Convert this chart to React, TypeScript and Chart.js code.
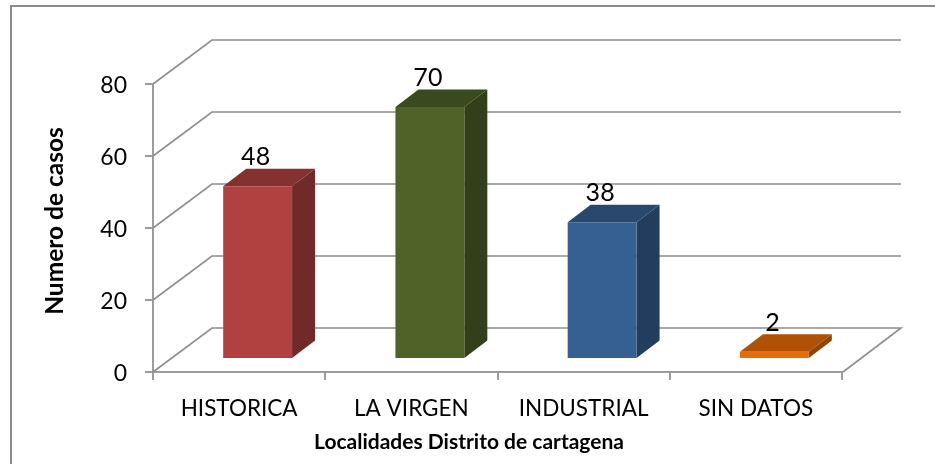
import React, { useEffect, useRef } from "react";
import { Chart, registerables } from "chart.js";

Chart.register(...registerables);

const categories = ["HISTORICA", "LA VIRGEN", "INDUSTRIAL", "SIN DATOS"];
const casos = [48, 70, 38, 2];
const yTicks = [0, 20, 40, 60, 80];
const frontColors = ["#B04140", "#4F6228", "#376092", "#E46C0A"];
const topColors = ["#843130", "#3B4A1E", "#2A486E", "#AF5206"];
const sideColors = ["#722A29", "#333F1A", "#223D5E", "#8F4405"];
const yTitle = "Numero de casos";
const xTitle = "Localidades Distrito de cartagena";

const FONT = "Lato, 'Open Sans', sans-serif";
const GRID = "#8E8E8E";
const AXIS = "#9C9C9C";
const WALL_DX = 59;
const WALL_DY = 44;
const BAR_DX = 18.5;
const BAR_DY = 13;
const DEPTH_DX = 23;
const DEPTH_DY = 17.5;

const threeD = {
  id: "threeD",
  beforeDatasetsDraw(chart: any) {
    const { ctx, chartArea, scales } = chart;
    const yS = scales.y;
    ctx.save();
    ctx.strokeStyle = GRID;
    ctx.lineWidth = 1.6;
    yTicks.forEach((v) => {
      const y = yS.getPixelForValue(v);
      ctx.beginPath();
      ctx.moveTo(chartArea.left, y);
      ctx.lineTo(chartArea.left + WALL_DX, y - WALL_DY);
      ctx.lineTo(chartArea.right + WALL_DX, y - WALL_DY);
      if (v === 0) ctx.lineTo(chartArea.right + 1, y);
      ctx.stroke();
    });
    ctx.restore();

    const meta = chart.getDatasetMeta(0);
    ctx.save();
    ctx.translate(BAR_DX, -BAR_DY);
    meta.data.forEach((bar: any, i: number) => {
      const l = bar.x - bar.width / 2;
      const r = bar.x + bar.width / 2;
      ctx.fillStyle = topColors[i];
      ctx.beginPath();
      ctx.moveTo(l, bar.y);
      ctx.lineTo(l + DEPTH_DX, bar.y - DEPTH_DY);
      ctx.lineTo(r + DEPTH_DX, bar.y - DEPTH_DY);
      ctx.lineTo(r, bar.y);
      ctx.closePath();
      ctx.fill();
      ctx.fillStyle = sideColors[i];
      ctx.beginPath();
      ctx.moveTo(r, bar.y);
      ctx.lineTo(r + DEPTH_DX, bar.y - DEPTH_DY);
      ctx.lineTo(r + DEPTH_DX, bar.base - DEPTH_DY);
      ctx.lineTo(r, bar.base);
      ctx.closePath();
      ctx.fill();
    });
    ctx.restore();
    ctx.save();
    ctx.translate(BAR_DX, -BAR_DY);
  },
  afterDatasetsDraw(chart: any) {
    const { ctx } = chart;
    ctx.restore();
    const meta = chart.getDatasetMeta(0);
    ctx.save();
    ctx.fillStyle = "#000";
    ctx.font = `25px ${FONT}`;
    ctx.textAlign = "center";
    ctx.textBaseline = "alphabetic";
    meta.data.forEach((bar: any, i: number) => {
      ctx.fillText(String(casos[i]), bar.x + BAR_DX - 2, bar.y - BAR_DY - DEPTH_DY - 3.5);
    });
    ctx.restore();
  },
  afterDraw(chart: any) {
    const { ctx } = chart;
    ctx.save();
    ctx.strokeStyle = "#8C8C8C";
    ctx.lineWidth = 2;
    ctx.beginPath();
    ctx.moveTo(11, 480);
    ctx.lineTo(11, 6);
    ctx.lineTo(936, 6);
    ctx.stroke();
    ctx.fillStyle = "#000";
    ctx.font = `bold 21px ${FONT}`;
    ctx.textAlign = "center";
    ctx.textBaseline = "middle";
    ctx.fillText(xTitle, 469, 442);
    ctx.font = `bold 24.5px ${FONT}`;
    ctx.translate(55, 221);
    ctx.rotate(-Math.PI / 2);
    ctx.fillText(yTitle, 0, 0);
    ctx.restore();
  },
};

export default function App() {
  const ref = useRef<HTMLCanvasElement>(null);
  useEffect(() => {
    document.body.style.margin = "0";
    document.body.style.background = "#fff";
    const chart = new Chart(ref.current as HTMLCanvasElement, {
      type: "bar",
      data: {
        labels: categories,
        datasets: [
          {
            data: casos,
            backgroundColor: frontColors,
            barPercentage: 1,
            categoryPercentage: 0.4,
            clip: false as any,
          },
        ],
      },
      options: {
        responsive: false,
        animation: false,
        layout: { padding: { left: 0, top: 84, right: 93, bottom: 0 } },
        plugins: { legend: { display: false }, tooltip: { enabled: false } },
        scales: {
          x: {
            afterFit: (s: any) => {
              s.height = 92;
            },
            grid: {
              drawOnChartArea: false,
              drawTicks: true,
              tickLength: 8,
              color: AXIS,
              lineWidth: 2,
            },
            border: { color: AXIS, width: 2 },
            ticks: { color: "#000", font: { family: FONT, size: 22.5 }, padding: 15, maxRotation: 0 },
          },
          y: {
            min: 0,
            max: 80,
            afterFit: (s: any) => {
              s.width = 153;
            },
            afterBuildTicks: (s: any) => {
              s.ticks = yTicks.map((value) => ({ value }));
            },
            grid: {
              drawOnChartArea: false,
              drawTicks: true,
              tickLength: 8,
              color: AXIS,
              lineWidth: 2,
            },
            border: { color: AXIS, width: 2 },
            ticks: { color: "#000", font: { family: FONT, size: 23 }, padding: 18, labelOffset: 2 } as any,
          },
        },
      },
      plugins: [threeD],
    });
    return () => chart.destroy();
  }, []);
  return <canvas ref={ref} width={935} height={464} style={{ display: "block" }} />;
}
